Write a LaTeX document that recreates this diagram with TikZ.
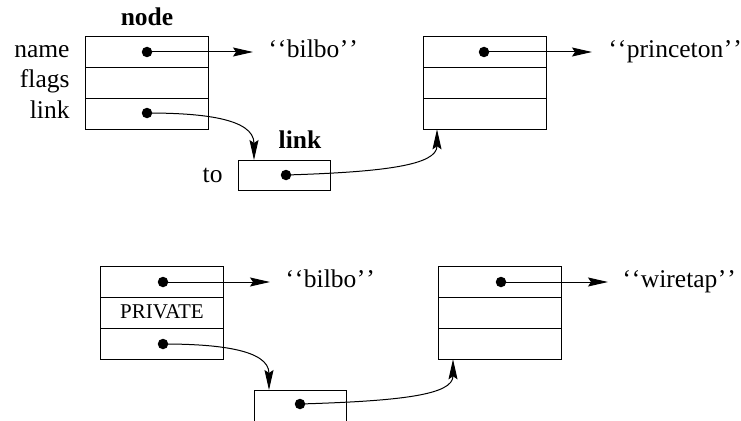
\documentclass[tikz,border=0pt]{standalone}
\usepackage{fontspec}
\setmainfont{Liberation Serif}
\usetikzlibrary{arrows.meta}
\newcommand\myoq{`\kern1pt`\kern0.5pt}
\newcommand\mycq{\kern0.5pt'\kern1pt'}
\begin{document}
\begin{tikzpicture}[x=1pt,y=-1pt,line width=1pt,
  every node/.style={font=\fontsize{25.5}{30}\selectfont, inner sep=0pt},
  cell/.style={draw, minimum width=123pt, minimum height=30.67pt},
  lbox/.style={draw, minimum width=92pt, minimum height=30pt},
  dot/.style={circle, fill=black, minimum size=10.5pt},
  ptr/.style={-{Stealth[length=20pt,width=9pt,inset=3pt]}},
  small/.style={font=\fontsize{21}{25}\selectfont}]
\useasboundingbox (0,0) rectangle (741,420);

% ---- top left record
\node[cell] (a1) at (146.5,52.3) {};
\node[cell] (a2) at (146.5,83) {};
\node[cell] (a3) at (146.5,113.7) {};
\node[font=\fontsize{25.5}{30}\selectfont\bfseries, anchor=base] (tnode) at (147,26) {node};
\node[anchor=base east] (lname) at (70,57) {name};
\node[anchor=base east] (lflags) at (70,87) {flags};
\node[anchor=base east] (llink) at (70,118) {link};
\node[dot] (d1) at (147,52) {};
\node[dot] (d2) at (147,113) {};
\node[anchor=base west] (s1) at (268,57) {\myoq bilbo\mycq};

% ---- top link box
\node[lbox] (k1) at (284,175) {};
\node[font=\fontsize{25.5}{30}\selectfont\bfseries, anchor=base] (tlink) at (300,148) {link};
\node[anchor=base east] (lto) at (223,182) {to};
\node[dot] (d3) at (286,175) {};
\coordinate (k1in) at (254,160);

% ---- top right record
\node[cell] (b1) at (484.5,52.3) {};
\node[cell] (b2) at (484.5,83) {};
\node[cell] (b3) at (484.5,113.7) {};
\node[dot] (d4) at (484,52) {};
\node[anchor=base west] (s2) at (608,57) {\myoq princeton\mycq};
\coordinate (b3in) at (437,129.3);

% ---- bottom left record
\node[cell] (c1) at (161.5,282.3) {};
\node[cell] (c2) at (161.5,313) {};
\node[cell] (c3) at (161.5,343.7) {};
\node[small, anchor=base] (priv) at (162,318) {PRIVATE};
\node[dot] (d5) at (163,282) {};
\node[dot] (d6) at (163,344) {};
\node[anchor=base west] (s3) at (285,287) {\myoq bilbo\mycq};

% ---- bottom link box
\node[draw, minimum width=92pt, minimum height=32pt] (k2) at (300,406) {};
\node[dot] (d7) at (300,404) {};
\coordinate (k2in) at (269,390);

% ---- bottom right record
\node[cell] (e1) at (500,282.3) {};
\node[cell] (e2) at (500,313) {};
\node[cell] (e3) at (500,343.7) {};
\node[dot] (d8) at (501,282) {};
\node[anchor=base west] (s4) at (622,287) {\myoq wiretap\mycq};
\coordinate (e3in) at (453,359.3);

% ---- pointers
\draw[ptr, shorten >=15pt] (d1.center) -- (d1.center -| s1.west);
\draw[ptr, shorten >=16pt] (d4.center) -- (d4.center -| s2.west);
\draw[ptr, shorten >=15pt] (d5.center) -- (d5.center -| s3.west);
\draw[ptr, shorten >=14pt] (d8.center) -- (d8.center -| s4.west);

\draw[ptr] (d2.center) .. controls (200,113) and (254,118) .. (k1in);
\draw[ptr] (d3.center) .. controls (385,172) and (437,165) .. (b3in);
\draw[ptr] (d6.center) .. controls (215,344) and (269,349) .. (k2in);
\draw[ptr] (d7.center) .. controls (400,401) and (453,395) .. (e3in);
\end{tikzpicture}
\end{document}
